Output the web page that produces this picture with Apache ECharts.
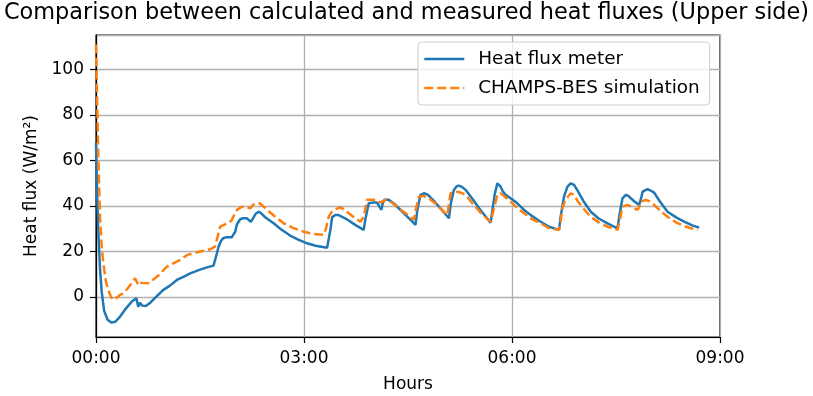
<!DOCTYPE html>
<html>
<head>
<meta charset="utf-8">
<script src="https://cdn.jsdelivr.net/npm/echarts@6/dist/echarts.min.js"></script>
<style>
html,body{margin:0;padding:0;background:#fff;}
#chart{width:813px;height:396px;}
</style>
</head>
<body>
<div id="chart"></div>
<script>
// time in minutes since 00:00
const meterTimes = [0,1,2,3.5,5,7,10,13.6,17,21,26,31,35,36.5,38,40,43,47,52,58,64,70,76,82,90,96,101.7,103,104.5,106,108,110,113,117.6,119,120.5,122,124.8,127,130.6,134,135,136.4,138,140.7,143,147,153.7,160,168,175,182.6,190,200,201,203,204.3,207,210,216,225,231.7,233,236,240,243.3,245.5,247,248,249.5,253.4,258,265,272,276.5,278,280.8,283.7,287,292,298,305.4,307,309.7,312,314,317,320,326,333,341.5,343,345,347.3,349,350.2,352,354.5,360,364.6,370,376.2,384.8,392,400.7,402,405,408,410.8,413.7,417,422,428.2,435,442.6,451.3,453,455.6,458.5,461,462.8,466,470,471.5,473,477.3,480,483,488,494.6,502,509,516,522];
const meterValues = [68,45,29,12,2,-6,-10,-11.3,-10.8,-8.5,-5,-2,-0.6,-4.3,-2.5,-3.8,-4,-2.5,0,3,5,7.5,9,10.5,12,13,13.8,14.5,19,22,24.5,25.8,26.3,26.3,27.5,28.7,32,34.2,34.6,34.6,33,32.8,35,36.5,37.5,36.8,34.8,32.4,29.8,27,25.2,23.6,22.5,21.6,22,30,35,36,36,34.5,31.5,29.5,34,41.2,41.5,41.5,39.5,38.3,41,42.7,42.7,41,37.5,34,31.7,38,44.9,45.6,45,42.5,39,34.6,41,47,48.6,49,48.3,47,43,38,32.7,38,45,50,49.5,48.5,46.5,44.9,43,41.2,38.5,36,33.1,30.9,29.5,35,44.1,48.5,50,49.3,46.5,42,37.5,34.5,32.4,30.2,36,43.4,44.9,44.3,43.4,42,40.5,43,46.3,47.4,46.8,45.9,42,37.5,35,33.1,31.5,30.5];

const simTimes = [0,0.8,2,3.5,5,6.3,8.5,10.7,13,15,18,21,23.7,27,30,33.8,35.5,36.7,38,40,45,49,53,57,61.3,67,72.8,79,85,92,98.8,103,105,107.5,111,114.7,117.6,120,122,126.3,130,133.5,136,137.8,141.6,144,148,155,162.4,170,179.7,188,197,199,201.4,203.5,205.7,211.5,215,222,228.8,231.7,234.6,240,243.3,246,247.6,249.5,251.4,256,262,268,272,275,277,279.4,283,288,294,300,304,306.8,309,312.6,316,319.8,326,333,341.5,344,347.3,350,353,356,360.3,366,370,376,384.8,392,400.7,402,403.6,406,410.8,413.7,417,422,428,435,442.6,451.3,453,455.6,460,464,468.6,470,471.5,475.8,479,483,488,494.6,502,509,515,520.7];
const simValues = [111,90,62,35,22,15,7,3,0,-1.3,-0.3,1,1.6,3.5,5.5,8.2,6.5,5.3,6.3,6.2,6,7.5,9,11,13.3,14.8,16.3,18.5,19.3,20.2,21,22.1,26,30.9,31.8,32.4,33.9,36.5,38.3,39.7,39.5,39,40.5,41.2,41.2,40.2,38.3,35.3,32.4,30.5,28.7,27.7,27.3,30,35.3,37,38.3,39.4,38.3,35.5,33.1,35.3,42.7,42.7,42.7,41.5,41.2,42.5,42.7,41.5,39,36.8,35.3,33.9,39,44.1,44.5,43.4,41,38,36,45.6,46,46.3,45.8,44.9,41,37,33.1,38,44.9,45.6,44.5,43,41.2,38.5,37,34.6,32.4,30.2,29.5,33,39,42.5,45.6,44.9,42,38.8,35.3,32.8,30.9,29.5,33,39.7,40.5,39.5,38.3,39.5,41.9,42.7,42,40.5,38,35.3,32.8,31.2,30.2,29.5];

const xTickLabels = ['00:00','03:00','06:00','09:00'];
const seriesNames = ['Heat flux meter','CHAMPS-BES simulation'];
const titleText = 'Comparison between calculated and measured heat fluxes (Upper side)';

function pairs(ts, vs){ return ts.map((t,i)=>[t, vs[i]]); }

const FONT = 'DejaVu Sans';
const chart = echarts.init(document.getElementById('chart'), null, {renderer:'canvas'});
chart.setOption({
  animation:false,
  backgroundColor:'#ffffff',
  title:{
    text:titleText, left:'center', top:2, padding:0,
    textStyle:{fontFamily:FONT, fontSize:22.4, fontWeight:'normal', color:'#000'}
  },
  grid:{left:96, right:93, top:35, bottom:59, show:true, borderColor:'#000', borderWidth:1.2, backgroundColor:'transparent', outerBoundsMode:'none', containLabel:false},
  legend:{
    orient:'vertical', left:418, top:42,
    padding:[7,10,7,5], itemGap:9, itemWidth:40, itemHeight:14,
    backgroundColor:'rgba(255,255,255,0.8)', borderColor:'#cccccc', borderWidth:1, borderRadius:4,
    itemStyle:{opacity:0},
    lineStyle:{width:2.5},
    textStyle:{fontFamily:FONT, fontSize:18.4, color:'#000', lineHeight:20, padding:[0,0,0,9]},
    data:seriesNames
  },
  xAxis:{
    type:'value', min:0, max:540, interval:180,
    name:'Hours', nameLocation:'middle', nameGap:39,
    nameTextStyle:{fontFamily:FONT, fontSize:17, color:'#000', verticalAlign:'top'},
    axisLine:{show:true, onZero:false, lineStyle:{color:'#000', width:1.2}},
    axisTick:{show:true, length:6, inside:false, lineStyle:{color:'#000', width:1.2}},
    axisLabel:{margin:13, fontFamily:FONT, fontSize:17, color:'#000',
      formatter:(v)=>xTickLabels[Math.round(v/180)] || ''},
    splitLine:{show:true, lineStyle:{color:'#b0b0b0', width:1.3}}
  },
  yAxis:{
    type:'value', min:-17.6, max:115.2, splitNumber:7,
    name:'Heat flux (W/m²)', nameLocation:'middle', nameGap:56, nameRotate:90,
    nameTextStyle:{fontFamily:FONT, fontSize:17, color:'#000'},
    axisLine:{show:true, onZero:false, lineStyle:{color:'#000', width:1.2}},
    axisTick:{show:true, length:6, lineStyle:{color:'#000', width:1.2}},
    axisLabel:{margin:12, fontFamily:FONT, fontSize:17, color:'#000', showMinLabel:false, showMaxLabel:false},
    splitLine:{show:true, lineStyle:{color:'#b0b0b0', width:1.3}}
  },
  series:[
    {name:seriesNames[0], type:'line', symbol:'none', showSymbol:false, smooth:false,
     data:pairs(meterTimes, meterValues), lineStyle:{color:'#1f77b4', width:2.5}, itemStyle:{color:'#1f77b4'}, z:3},
    {name:seriesNames[1], type:'line', symbol:'none', showSymbol:false, smooth:false,
     data:pairs(simTimes, simValues), lineStyle:{color:'#ff7f0e', width:2.5, type:[9,4]}, itemStyle:{color:'#ff7f0e'}, z:4}
  ]
});
</script>
</body>
</html>
